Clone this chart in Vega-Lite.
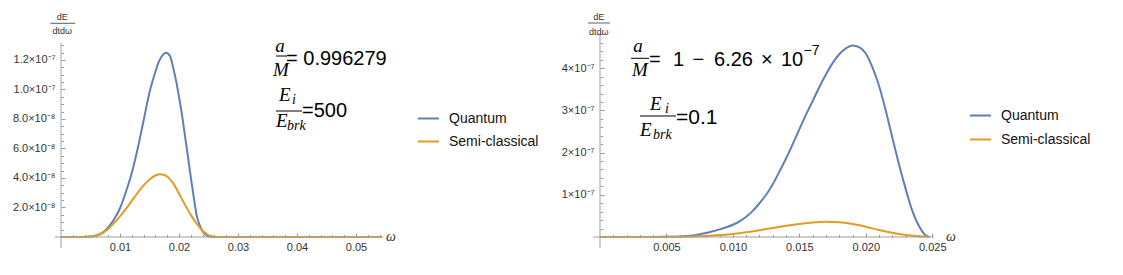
{
  "$schema": "https://vega.github.io/schema/vega-lite/v6.json",
  "width": 1123,
  "height": 275,
  "autosize": {"type": "fit", "contains": "padding"},
  "padding": 0,
  "background": "white",
  "config": {"view": {"stroke": null}, "axis": {"labelFont": "Liberation Sans"}},
  "datasets": {
    "left": [
      {"series": "Quantum", "w": 0, "dE": 0},
      {"series": "Quantum", "w": 0.002, "dE": 0},
      {"series": "Quantum", "w": 0.003, "dE": 0},
      {"series": "Quantum", "w": 0.004, "dE": 5e-11},
      {"series": "Quantum", "w": 0.005, "dE": 3e-10},
      {"series": "Quantum", "w": 0.006, "dE": 1e-9},
      {"series": "Quantum", "w": 0.007, "dE": 2.8e-9},
      {"series": "Quantum", "w": 0.008, "dE": 6.5e-9},
      {"series": "Quantum", "w": 0.009, "dE": 1.2e-8},
      {"series": "Quantum", "w": 0.010, "dE": 1.95e-8},
      {"series": "Quantum", "w": 0.011, "dE": 3.05e-8},
      {"series": "Quantum", "w": 0.012, "dE": 4.35e-8},
      {"series": "Quantum", "w": 0.013, "dE": 6.0e-8},
      {"series": "Quantum", "w": 0.014, "dE": 7.9e-8},
      {"series": "Quantum", "w": 0.015, "dE": 9.8e-8},
      {"series": "Quantum", "w": 0.016, "dE": 1.12e-7},
      {"series": "Quantum", "w": 0.0165, "dE": 1.18e-7},
      {"series": "Quantum", "w": 0.017, "dE": 1.22e-7},
      {"series": "Quantum", "w": 0.0178, "dE": 1.25e-7},
      {"series": "Quantum", "w": 0.0185, "dE": 1.225e-7},
      {"series": "Quantum", "w": 0.019, "dE": 1.15e-7},
      {"series": "Quantum", "w": 0.0195, "dE": 1.06e-7},
      {"series": "Quantum", "w": 0.020, "dE": 9.5e-8},
      {"series": "Quantum", "w": 0.0205, "dE": 8.3e-8},
      {"series": "Quantum", "w": 0.021, "dE": 6.9e-8},
      {"series": "Quantum", "w": 0.0215, "dE": 5.5e-8},
      {"series": "Quantum", "w": 0.022, "dE": 4.05e-8},
      {"series": "Quantum", "w": 0.0225, "dE": 2.7e-8},
      {"series": "Quantum", "w": 0.023, "dE": 1.45e-8},
      {"series": "Quantum", "w": 0.0235, "dE": 8e-9},
      {"series": "Quantum", "w": 0.024, "dE": 4e-9},
      {"series": "Quantum", "w": 0.0245, "dE": 1.7e-9},
      {"series": "Quantum", "w": 0.025, "dE": 5e-10},
      {"series": "Quantum", "w": 0.026, "dE": 0},
      {"series": "Quantum", "w": 0.03, "dE": 0},
      {"series": "Quantum", "w": 0.04, "dE": 0},
      {"series": "Quantum", "w": 0.05, "dE": 0},
      {"series": "Quantum", "w": 0.0544, "dE": 0},
      {"series": "Semi-classical", "w": 0, "dE": 0},
      {"series": "Semi-classical", "w": 0.003, "dE": 0},
      {"series": "Semi-classical", "w": 0.004, "dE": 5e-11},
      {"series": "Semi-classical", "w": 0.005, "dE": 3e-10},
      {"series": "Semi-classical", "w": 0.006, "dE": 1e-9},
      {"series": "Semi-classical", "w": 0.007, "dE": 2.7e-9},
      {"series": "Semi-classical", "w": 0.008, "dE": 5.5e-9},
      {"series": "Semi-classical", "w": 0.009, "dE": 9.5e-9},
      {"series": "Semi-classical", "w": 0.010, "dE": 1.4e-8},
      {"series": "Semi-classical", "w": 0.011, "dE": 1.9e-8},
      {"series": "Semi-classical", "w": 0.012, "dE": 2.45e-8},
      {"series": "Semi-classical", "w": 0.013, "dE": 3.0e-8},
      {"series": "Semi-classical", "w": 0.014, "dE": 3.5e-8},
      {"series": "Semi-classical", "w": 0.015, "dE": 3.9e-8},
      {"series": "Semi-classical", "w": 0.016, "dE": 4.17e-8},
      {"series": "Semi-classical", "w": 0.0168, "dE": 4.25e-8},
      {"series": "Semi-classical", "w": 0.0175, "dE": 4.2e-8},
      {"series": "Semi-classical", "w": 0.018, "dE": 4.1e-8},
      {"series": "Semi-classical", "w": 0.019, "dE": 3.65e-8},
      {"series": "Semi-classical", "w": 0.020, "dE": 2.95e-8},
      {"series": "Semi-classical", "w": 0.021, "dE": 2.2e-8},
      {"series": "Semi-classical", "w": 0.022, "dE": 1.5e-8},
      {"series": "Semi-classical", "w": 0.023, "dE": 9e-9},
      {"series": "Semi-classical", "w": 0.024, "dE": 4.2e-9},
      {"series": "Semi-classical", "w": 0.025, "dE": 1.3e-9},
      {"series": "Semi-classical", "w": 0.026, "dE": 2e-10},
      {"series": "Semi-classical", "w": 0.027, "dE": 0},
      {"series": "Semi-classical", "w": 0.03, "dE": 0},
      {"series": "Semi-classical", "w": 0.04, "dE": 0},
      {"series": "Semi-classical", "w": 0.05, "dE": 0},
      {"series": "Semi-classical", "w": 0.0544, "dE": 0}
    ],
    "right": [
      {"series": "Quantum", "w": 0, "dE": 0},
      {"series": "Quantum", "w": 0.003, "dE": 0},
      {"series": "Quantum", "w": 0.004, "dE": 1e-10},
      {"series": "Quantum", "w": 0.005, "dE": 3e-10},
      {"series": "Quantum", "w": 0.0055, "dE": 6e-10},
      {"series": "Quantum", "w": 0.006, "dE": 1.2e-9},
      {"series": "Quantum", "w": 0.0065, "dE": 2.2e-9},
      {"series": "Quantum", "w": 0.007, "dE": 3.8e-9},
      {"series": "Quantum", "w": 0.0075, "dE": 6.4e-9},
      {"series": "Quantum", "w": 0.008, "dE": 9.5e-9},
      {"series": "Quantum", "w": 0.0085, "dE": 1.35e-8},
      {"series": "Quantum", "w": 0.009, "dE": 1.8e-8},
      {"series": "Quantum", "w": 0.0095, "dE": 2.3e-8},
      {"series": "Quantum", "w": 0.010, "dE": 2.9e-8},
      {"series": "Quantum", "w": 0.0105, "dE": 3.7e-8},
      {"series": "Quantum", "w": 0.011, "dE": 4.8e-8},
      {"series": "Quantum", "w": 0.0115, "dE": 6.2e-8},
      {"series": "Quantum", "w": 0.012, "dE": 8.0e-8},
      {"series": "Quantum", "w": 0.0125, "dE": 1.0e-7},
      {"series": "Quantum", "w": 0.013, "dE": 1.25e-7},
      {"series": "Quantum", "w": 0.0135, "dE": 1.55e-7},
      {"series": "Quantum", "w": 0.014, "dE": 1.86e-7},
      {"series": "Quantum", "w": 0.0145, "dE": 2.2e-7},
      {"series": "Quantum", "w": 0.015, "dE": 2.55e-7},
      {"series": "Quantum", "w": 0.0155, "dE": 2.9e-7},
      {"series": "Quantum", "w": 0.016, "dE": 3.22e-7},
      {"series": "Quantum", "w": 0.0165, "dE": 3.55e-7},
      {"series": "Quantum", "w": 0.017, "dE": 3.85e-7},
      {"series": "Quantum", "w": 0.0175, "dE": 4.12e-7},
      {"series": "Quantum", "w": 0.018, "dE": 4.33e-7},
      {"series": "Quantum", "w": 0.0185, "dE": 4.47e-7},
      {"series": "Quantum", "w": 0.019, "dE": 4.54e-7},
      {"series": "Quantum", "w": 0.0195, "dE": 4.5e-7},
      {"series": "Quantum", "w": 0.020, "dE": 4.35e-7},
      {"series": "Quantum", "w": 0.0205, "dE": 4.02e-7},
      {"series": "Quantum", "w": 0.021, "dE": 3.58e-7},
      {"series": "Quantum", "w": 0.0215, "dE": 3.0e-7},
      {"series": "Quantum", "w": 0.022, "dE": 2.35e-7},
      {"series": "Quantum", "w": 0.0225, "dE": 1.72e-7},
      {"series": "Quantum", "w": 0.023, "dE": 1.14e-7},
      {"series": "Quantum", "w": 0.0235, "dE": 6.2e-8},
      {"series": "Quantum", "w": 0.024, "dE": 2.6e-8},
      {"series": "Quantum", "w": 0.0245, "dE": 4e-9},
      {"series": "Quantum", "w": 0.0248, "dE": 0},
      {"series": "Semi-classical", "w": 0, "dE": 0},
      {"series": "Semi-classical", "w": 0.003, "dE": 0},
      {"series": "Semi-classical", "w": 0.004, "dE": 1e-10},
      {"series": "Semi-classical", "w": 0.005, "dE": 3e-10},
      {"series": "Semi-classical", "w": 0.006, "dE": 6e-10},
      {"series": "Semi-classical", "w": 0.007, "dE": 1.2e-9},
      {"series": "Semi-classical", "w": 0.008, "dE": 2.5e-9},
      {"series": "Semi-classical", "w": 0.009, "dE": 4.5e-9},
      {"series": "Semi-classical", "w": 0.010, "dE": 7e-9},
      {"series": "Semi-classical", "w": 0.011, "dE": 1.1e-8},
      {"series": "Semi-classical", "w": 0.012, "dE": 1.6e-8},
      {"series": "Semi-classical", "w": 0.013, "dE": 2.15e-8},
      {"series": "Semi-classical", "w": 0.014, "dE": 2.65e-8},
      {"series": "Semi-classical", "w": 0.015, "dE": 3.1e-8},
      {"series": "Semi-classical", "w": 0.016, "dE": 3.45e-8},
      {"series": "Semi-classical", "w": 0.017, "dE": 3.6e-8},
      {"series": "Semi-classical", "w": 0.018, "dE": 3.5e-8},
      {"series": "Semi-classical", "w": 0.019, "dE": 3.1e-8},
      {"series": "Semi-classical", "w": 0.020, "dE": 2.45e-8},
      {"series": "Semi-classical", "w": 0.021, "dE": 1.65e-8},
      {"series": "Semi-classical", "w": 0.022, "dE": 1.0e-8},
      {"series": "Semi-classical", "w": 0.023, "dE": 5e-9},
      {"series": "Semi-classical", "w": 0.024, "dE": 1.5e-9},
      {"series": "Semi-classical", "w": 0.0248, "dE": 0}
    ]
  },
  "layer": [
    {
      "layer": [
        {
          "data": {"name": "left"},
          "mark": {"type": "line", "strokeWidth": 2, "interpolate": "monotone"},
          "encoding": {
            "x": {"field": "w", "type": "quantitative", "scale": {"domain": [-0.010339, 0.18], "nice": false, "zero": false},
              "axis": {"orient": "bottom", "offset": -38, "values": [0.01, 0.02, 0.03, 0.04, 0.05], "format": ".2f", "domain": false, "grid": false, "tickSize": -4, "tickColor": "#999999", "labelFontSize": 11, "labelColor": "#333333", "labelPadding": 8, "title": null}},
            "y": {"field": "dE", "type": "quantitative", "scale": {"domain": [-2.5763e-8, 1.60678e-7], "nice": false, "zero": false},
              "axis": {"orient": "left", "offset": -61, "values": [2e-8, 4e-8, 6e-8, 8e-8, 1e-7, 1.2e-7], "labelExpr": "datum.value > 9.9e-8 ? format(datum.value*1e7, '.1f') + '×10⁻⁷' : format(datum.value*1e8, '.1f') + '×10⁻⁸'", "domain": false, "grid": false, "tickSize": -4, "tickColor": "#999999", "labelFontSize": 11, "labelColor": "#333333", "labelPadding": 10, "title": null}},
            "color": {"field": "series", "type": "nominal", "scale": {"domain": ["Quantum", "Semi-classical"], "range": ["#5E81B5", "#E19C24"]},
              "legend": {"orient": "none", "legendX": 417, "legendY": 107, "title": null, "symbolType": "stroke", "symbolSize": 441, "symbolStrokeWidth": 2, "labelFont": "Liberation Sans", "labelFontSize": 14, "labelColor": "#111111", "labelOffset": 9, "rowPadding": 4, "padding": 0}}
          }
        },
        {
          "data": {"values": [{}]},
          "mark": {"type": "rule", "color": "#a0a0a0", "strokeWidth": 1},
          "encoding": {
            "x": {"datum": -0.001017, "type": "quantitative", "scale": {"domain": [-0.010339, 0.18], "nice": false, "zero": false},
              "axis": {"orient": "bottom", "offset": -38, "values": [0.002, 0.004, 0.006, 0.008, 0.012, 0.014, 0.016, 0.018, 0.022, 0.024, 0.026, 0.028, 0.032, 0.034, 0.036, 0.038, 0.042, 0.044, 0.046, 0.048, 0.052, 0.054], "labels": false, "domain": false, "grid": false, "tickSize": -2.5, "tickColor": "#999999", "title": null}},
            "x2": {"datum": 0.054576},
            "y": {"datum": 0, "type": "quantitative", "scale": {"domain": [-2.5763e-8, 1.60678e-7], "nice": false, "zero": false}, "axis": null}
          }
        },
        {
          "data": {"values": [{}]},
          "mark": {"type": "rule", "color": "#a0a0a0", "strokeWidth": 1},
          "encoding": {
            "x": {"datum": 0, "type": "quantitative", "scale": {"domain": [-0.010339, 0.18], "nice": false, "zero": false}, "axis": null},
            "y": {"datum": -7.458e-9, "type": "quantitative", "scale": {"domain": [-2.5763e-8, 1.60678e-7], "nice": false, "zero": false},
              "axis": {"orient": "left", "offset": -61, "values": [5e-9, 1e-8, 1.5e-8, 2.5e-8, 3e-8, 3.5e-8, 4.5e-8, 5e-8, 5.5e-8, 6.5e-8, 7e-8, 7.5e-8, 8.5e-8, 9e-8, 9.5e-8, 1.05e-7, 1.1e-7, 1.15e-7, 1.25e-7, 1.3e-7], "labels": false, "domain": false, "grid": false, "tickSize": -2.5, "tickColor": "#999999", "title": null}},
            "y2": {"datum": 1.3153e-7}
          }
        },
        {
          "data": {"values": [{"t": "dE"}]},
          "mark": {"type": "text", "font": "Liberation Sans", "fontSize": 9, "color": "#333333", "align": "center", "baseline": "middle"},
          "encoding": {"text": {"field": "t"}, "x": {"datum": 0.0002, "type": "quantitative", "axis": null}, "y": {"datum": 1.4915e-7, "type": "quantitative", "axis": null}}
        },
        {
          "data": {"values": [{}]},
          "mark": {"type": "rule", "color": "#333333", "strokeWidth": 0.8},
          "encoding": {"x": {"datum": -0.0018, "type": "quantitative", "axis": null}, "x2": {"datum": 0.0024}, "y": {"datum": 1.4488e-7, "type": "quantitative", "axis": null}}
        },
        {
          "data": {"values": [{"t": "dtdω"}]},
          "mark": {"type": "text", "font": "Liberation Sans", "fontSize": 9, "color": "#333333", "align": "center", "baseline": "middle"},
          "encoding": {"text": {"field": "t"}, "x": {"datum": 0.0002, "type": "quantitative", "axis": null}, "y": {"datum": 1.397e-7, "type": "quantitative", "axis": null}}
        },
        {
          "data": {"values": [{"t": "ω"}]},
          "mark": {"type": "text", "font": "Liberation Serif", "fontStyle": "italic", "fontSize": 14, "color": "#333333", "align": "left", "baseline": "middle"},
          "encoding": {"text": {"field": "t"}, "x": {"datum": 0.05508, "type": "quantitative", "axis": null}, "y": {"datum": 0, "type": "quantitative", "axis": null}}
        },
        {
          "data": {"values": [{"t": "a"}]},
          "mark": {"type": "text", "font": "Liberation Serif", "fontStyle": "italic", "fontSize": 19, "color": "#000000", "align": "center", "baseline": "alphabetic"},
          "encoding": {"text": {"field": "t"}, "x": {"datum": 0.03712, "type": "quantitative", "axis": null}, "y": {"datum": 1.2542e-7, "type": "quantitative", "axis": null}}
        },
        {
          "data": {"values": [{}]},
          "mark": {"type": "rule", "color": "#000000", "strokeWidth": 1},
          "encoding": {"x": {"datum": 0.03644, "type": "quantitative", "axis": null}, "x2": {"datum": 0.03831}, "y": {"datum": 1.2271e-7, "type": "quantitative", "axis": null}}
        },
        {
          "data": {"values": [{"t": "M"}]},
          "mark": {"type": "text", "font": "Liberation Serif", "fontStyle": "italic", "fontSize": 19, "color": "#000000", "align": "center", "baseline": "alphabetic"},
          "encoding": {"text": {"field": "t"}, "x": {"datum": 0.03729, "type": "quantitative", "axis": null}, "y": {"datum": 1.0915e-7, "type": "quantitative", "axis": null}}
        },
        {
          "data": {"values": [{"t": "= 0.996279"}]},
          "mark": {"type": "text", "font": "Liberation Sans", "fontSize": 20, "color": "#000000", "align": "left", "baseline": "alphabetic"},
          "encoding": {"text": {"field": "t"}, "x": {"datum": 0.03814, "type": "quantitative", "axis": null}, "y": {"datum": 1.1661e-7, "type": "quantitative", "axis": null}}
        },
        {
          "data": {"values": [{"t": "E"}]},
          "mark": {"type": "text", "font": "Liberation Serif", "fontStyle": "italic", "fontSize": 19, "color": "#000000", "align": "left", "baseline": "alphabetic"},
          "encoding": {"text": {"field": "t"}, "x": {"datum": 0.03695, "type": "quantitative", "axis": null}, "y": {"datum": 9.22e-8, "type": "quantitative", "axis": null}}
        },
        {
          "data": {"values": [{"t": "i"}]},
          "mark": {"type": "text", "font": "Liberation Serif", "fontStyle": "italic", "fontSize": 14, "color": "#000000", "align": "left", "baseline": "alphabetic"},
          "encoding": {"text": {"field": "t"}, "x": {"datum": 0.039153, "type": "quantitative", "axis": null}, "y": {"datum": 9.017e-8, "type": "quantitative", "axis": null}}
        },
        {
          "data": {"values": [{}]},
          "mark": {"type": "rule", "color": "#000000", "strokeWidth": 1},
          "encoding": {"x": {"datum": 0.036441, "type": "quantitative", "axis": null}, "x2": {"datum": 0.040847}, "y": {"datum": 8.542e-8, "type": "quantitative", "axis": null}}
        },
        {
          "data": {"values": [{"t": "E"}]},
          "mark": {"type": "text", "font": "Liberation Serif", "fontStyle": "italic", "fontSize": 19, "color": "#000000", "align": "left", "baseline": "alphabetic"},
          "encoding": {"text": {"field": "t"}, "x": {"datum": 0.036441, "type": "quantitative", "axis": null}, "y": {"datum": 7.458e-8, "type": "quantitative", "axis": null}}
        },
        {
          "data": {"values": [{"t": "brk"}]},
          "mark": {"type": "text", "font": "Liberation Serif", "fontStyle": "italic", "fontSize": 14, "color": "#000000", "align": "left", "baseline": "alphabetic"},
          "encoding": {"text": {"field": "t"}, "x": {"datum": 0.038305, "type": "quantitative", "axis": null}, "y": {"datum": 7.254e-8, "type": "quantitative", "axis": null}}
        },
        {
          "data": {"values": [{"t": "=500"}]},
          "mark": {"type": "text", "font": "Liberation Sans", "fontSize": 20, "color": "#000000", "align": "left", "baseline": "alphabetic"},
          "encoding": {"text": {"field": "t"}, "x": {"datum": 0.040847, "type": "quantitative", "axis": null}, "y": {"datum": 8.136e-8, "type": "quantitative", "axis": null}}
        }
      ],
      "resolve": {"axis": {"x": "independent", "y": "independent"}}
    },
    {
      "layer": [
        {
          "data": {"name": "right"},
          "mark": {"type": "line", "strokeWidth": 2, "interpolate": "monotone"},
          "encoding": {
            "x": {"field": "w", "type": "quantitative", "scale": {"domain": [-0.045147, 0.039353], "nice": false, "zero": false},
              "axis": {"orient": "bottom", "offset": -38, "values": [0.005, 0.01, 0.015, 0.02, 0.025], "format": ".3f", "domain": false, "grid": false, "tickSize": -4, "tickColor": "#999999", "labelFontSize": 11, "labelColor": "#333333", "labelPadding": 8, "title": null}},
            "y": {"field": "dE", "type": "quantitative", "scale": {"domain": [-9.005e-8, 5.6161e-7], "nice": false, "zero": false},
              "axis": {"orient": "left", "offset": -600, "values": [1e-7, 2e-7, 3e-7, 4e-7], "labelExpr": "format(datum.value*1e7, '.0f') + '×10⁻⁷'", "domain": false, "grid": false, "tickSize": -4, "tickColor": "#999999", "labelFontSize": 11, "labelColor": "#333333", "labelPadding": 10, "title": null}},
            "color": {"field": "series", "type": "nominal", "scale": {"domain": ["Quantum", "Semi-classical"], "range": ["#5E81B5", "#E19C24"]},
              "legend": {"orient": "none", "legendX": 969, "legendY": 104, "title": null, "symbolType": "stroke", "symbolSize": 441, "symbolStrokeWidth": 2, "labelFont": "Liberation Sans", "labelFontSize": 14, "labelColor": "#111111", "labelOffset": 9, "rowPadding": 5, "padding": 0}}
          }
        },
        {
          "data": {"values": [{}]},
          "mark": {"type": "rule", "color": "#a0a0a0", "strokeWidth": 1},
          "encoding": {
            "x": {"datum": -0.000527, "type": "quantitative", "scale": {"domain": [-0.045147, 0.039353], "nice": false, "zero": false},
              "axis": {"orient": "bottom", "offset": -38, "values": [0.001, 0.002, 0.003, 0.004, 0.006, 0.007, 0.008, 0.009, 0.011, 0.012, 0.013, 0.014, 0.016, 0.017, 0.018, 0.019, 0.021, 0.022, 0.023, 0.024], "labels": false, "domain": false, "grid": false, "tickSize": -2.5, "tickColor": "#999999", "title": null}},
            "x2": {"datum": 0.025132},
            "y": {"datum": 0, "type": "quantitative", "scale": {"domain": [-9.005e-8, 5.6161e-7], "nice": false, "zero": false}, "axis": null}
          }
        },
        {
          "data": {"values": [{}]},
          "mark": {"type": "rule", "color": "#a0a0a0", "strokeWidth": 1},
          "encoding": {
            "x": {"datum": 0, "type": "quantitative", "scale": {"domain": [-0.045147, 0.039353], "nice": false, "zero": false}, "axis": null},
            "y": {"datum": -2.607e-8, "type": "quantitative", "scale": {"domain": [-9.005e-8, 5.6161e-7], "nice": false, "zero": false},
              "axis": {"orient": "left", "offset": -600, "values": [2e-8, 4e-8, 6e-8, 8e-8, 1.2e-7, 1.4e-7, 1.6e-7, 1.8e-7, 2.2e-7, 2.4e-7, 2.6e-7, 2.8e-7, 3.2e-7, 3.4e-7, 3.6e-7, 3.8e-7, 4.2e-7, 4.4e-7, 4.6e-7, 4.8e-7], "labels": false, "domain": false, "grid": false, "tickSize": -2.5, "tickColor": "#999999", "title": null}},
            "y2": {"datum": 4.8341e-7}
          }
        },
        {
          "data": {"values": [{"t": "dE"}]},
          "mark": {"type": "text", "font": "Liberation Sans", "fontSize": 9, "color": "#333333", "align": "center", "baseline": "middle"},
          "encoding": {"text": {"field": "t"}, "x": {"datum": -0.0001, "type": "quantitative", "axis": null}, "y": {"datum": 5.2133e-7, "type": "quantitative", "axis": null}}
        },
        {
          "data": {"values": [{}]},
          "mark": {"type": "rule", "color": "#333333", "strokeWidth": 0.8},
          "encoding": {"x": {"datum": -0.0009, "type": "quantitative", "axis": null}, "x2": {"datum": 0.00075}, "y": {"datum": 5.0711e-7, "type": "quantitative", "axis": null}}
        },
        {
          "data": {"values": [{"t": "dtdω"}]},
          "mark": {"type": "text", "font": "Liberation Sans", "fontSize": 9, "color": "#333333", "align": "center", "baseline": "middle"},
          "encoding": {"text": {"field": "t"}, "x": {"datum": -0.0001, "type": "quantitative", "axis": null}, "y": {"datum": 4.8578e-7, "type": "quantitative", "axis": null}}
        },
        {
          "data": {"values": [{"t": "ω"}]},
          "mark": {"type": "text", "font": "Liberation Serif", "fontStyle": "italic", "fontSize": 14, "color": "#333333", "align": "left", "baseline": "middle"},
          "encoding": {"text": {"field": "t"}, "x": {"datum": 0.026035, "type": "quantitative", "axis": null}, "y": {"datum": 0, "type": "quantitative", "axis": null}}
        },
        {
          "data": {"values": [{"t": "a"}]},
          "mark": {"type": "text", "font": "Liberation Serif", "fontStyle": "italic", "fontSize": 19, "color": "#000000", "align": "center", "baseline": "alphabetic"},
          "encoding": {"text": {"field": "t"}, "x": {"datum": 0.002859, "type": "quantitative", "axis": null}, "y": {"datum": 4.391e-7, "type": "quantitative", "axis": null}}
        },
        {
          "data": {"values": [{}]},
          "mark": {"type": "rule", "color": "#000000", "strokeWidth": 1},
          "encoding": {"x": {"datum": 0.002333, "type": "quantitative", "axis": null}, "x2": {"datum": 0.003687}, "y": {"datum": 4.2346e-7, "type": "quantitative", "axis": null}}
        },
        {
          "data": {"values": [{"t": "M"}]},
          "mark": {"type": "text", "font": "Liberation Serif", "fontStyle": "italic", "fontSize": 19, "color": "#000000", "align": "center", "baseline": "alphabetic"},
          "encoding": {"text": {"field": "t"}, "x": {"datum": 0.00301, "type": "quantitative", "axis": null}, "y": {"datum": 3.8152e-7, "type": "quantitative", "axis": null}}
        },
        {
          "data": {"values": [{"t": "="}]},
          "mark": {"type": "text", "font": "Liberation Sans", "fontSize": 20, "color": "#000000", "align": "left", "baseline": "alphabetic"},
          "encoding": {"text": {"field": "t"}, "x": {"datum": 0.003687, "type": "quantitative", "axis": null}, "y": {"datum": 4.0521e-7, "type": "quantitative", "axis": null}}
        },
        {
          "data": {"values": [{"t": "1"}]},
          "mark": {"type": "text", "font": "Liberation Sans", "fontSize": 20, "color": "#000000", "align": "left", "baseline": "alphabetic"},
          "encoding": {"text": {"field": "t"}, "x": {"datum": 0.005493, "type": "quantitative", "axis": null}, "y": {"datum": 4.0521e-7, "type": "quantitative", "axis": null}}
        },
        {
          "data": {"values": [{"t": "−"}]},
          "mark": {"type": "text", "font": "Liberation Sans", "fontSize": 20, "color": "#000000", "align": "left", "baseline": "alphabetic"},
          "encoding": {"text": {"field": "t"}, "x": {"datum": 0.00696, "type": "quantitative", "axis": null}, "y": {"datum": 4.0521e-7, "type": "quantitative", "axis": null}}
        },
        {
          "data": {"values": [{"t": "6.26"}]},
          "mark": {"type": "text", "font": "Liberation Sans", "fontSize": 20, "color": "#000000", "align": "left", "baseline": "alphabetic"},
          "encoding": {"text": {"field": "t"}, "x": {"datum": 0.008578, "type": "quantitative", "axis": null}, "y": {"datum": 4.0521e-7, "type": "quantitative", "axis": null}}
        },
        {
          "data": {"values": [{"t": "×"}]},
          "mark": {"type": "text", "font": "Liberation Sans", "fontSize": 20, "color": "#000000", "align": "left", "baseline": "alphabetic"},
          "encoding": {"text": {"field": "t"}, "x": {"datum": 0.012114, "type": "quantitative", "axis": null}, "y": {"datum": 4.0521e-7, "type": "quantitative", "axis": null}}
        },
        {
          "data": {"values": [{"t": "10"}]},
          "mark": {"type": "text", "font": "Liberation Sans", "fontSize": 20, "color": "#000000", "align": "left", "baseline": "alphabetic"},
          "encoding": {"text": {"field": "t"}, "x": {"datum": 0.013619, "type": "quantitative", "axis": null}, "y": {"datum": 4.0521e-7, "type": "quantitative", "axis": null}}
        },
        {
          "data": {"values": [{"t": "−7"}]},
          "mark": {"type": "text", "font": "Liberation Sans", "fontSize": 14, "color": "#000000", "align": "left", "baseline": "alphabetic"},
          "encoding": {"text": {"field": "t"}, "x": {"datum": 0.015312, "type": "quantitative", "axis": null}, "y": {"datum": 4.3128e-7, "type": "quantitative", "axis": null}}
        },
        {
          "data": {"values": [{"t": "E"}]},
          "mark": {"type": "text", "font": "Liberation Serif", "fontStyle": "italic", "fontSize": 19, "color": "#000000", "align": "left", "baseline": "alphabetic"},
          "encoding": {"text": {"field": "t"}, "x": {"datum": 0.003762, "type": "quantitative", "axis": null}, "y": {"datum": 3.0095e-7, "type": "quantitative", "axis": null}}
        },
        {
          "data": {"values": [{"t": "i"}]},
          "mark": {"type": "text", "font": "Liberation Serif", "fontStyle": "italic", "fontSize": 14, "color": "#000000", "align": "left", "baseline": "alphabetic"},
          "encoding": {"text": {"field": "t"}, "x": {"datum": 0.004891, "type": "quantitative", "axis": null}, "y": {"datum": 2.9384e-7, "type": "quantitative", "axis": null}}
        },
        {
          "data": {"values": [{}]},
          "mark": {"type": "rule", "color": "#000000", "strokeWidth": 1},
          "encoding": {"x": {"datum": 0.00301, "type": "quantitative", "axis": null}, "x2": {"datum": 0.005719}, "y": {"datum": 2.8673e-7, "type": "quantitative", "axis": null}}
        },
        {
          "data": {"values": [{"t": "E"}]},
          "mark": {"type": "text", "font": "Liberation Serif", "fontStyle": "italic", "fontSize": 19, "color": "#000000", "align": "left", "baseline": "alphabetic"},
          "encoding": {"text": {"field": "t"}, "x": {"datum": 0.00301, "type": "quantitative", "axis": null}, "y": {"datum": 2.3934e-7, "type": "quantitative", "axis": null}}
        },
        {
          "data": {"values": [{"t": "brk"}]},
          "mark": {"type": "text", "font": "Liberation Serif", "fontStyle": "italic", "fontSize": 14, "color": "#000000", "align": "left", "baseline": "alphabetic"},
          "encoding": {"text": {"field": "t"}, "x": {"datum": 0.003988, "type": "quantitative", "axis": null}, "y": {"datum": 2.3223e-7, "type": "quantitative", "axis": null}}
        },
        {
          "data": {"values": [{"t": "=0.1"}]},
          "mark": {"type": "text", "font": "Liberation Sans", "fontSize": 21, "color": "#000000", "align": "left", "baseline": "alphabetic"},
          "encoding": {"text": {"field": "t"}, "x": {"datum": 0.005719, "type": "quantitative", "axis": null}, "y": {"datum": 2.6777e-7, "type": "quantitative", "axis": null}}
        }
      ],
      "resolve": {"axis": {"x": "independent", "y": "independent"}}
    }
  ],
  "resolve": {
    "scale": {"x": "independent", "y": "independent", "color": "independent"},
    "axis": {"x": "independent", "y": "independent"},
    "legend": {"color": "independent"}
  }
}
